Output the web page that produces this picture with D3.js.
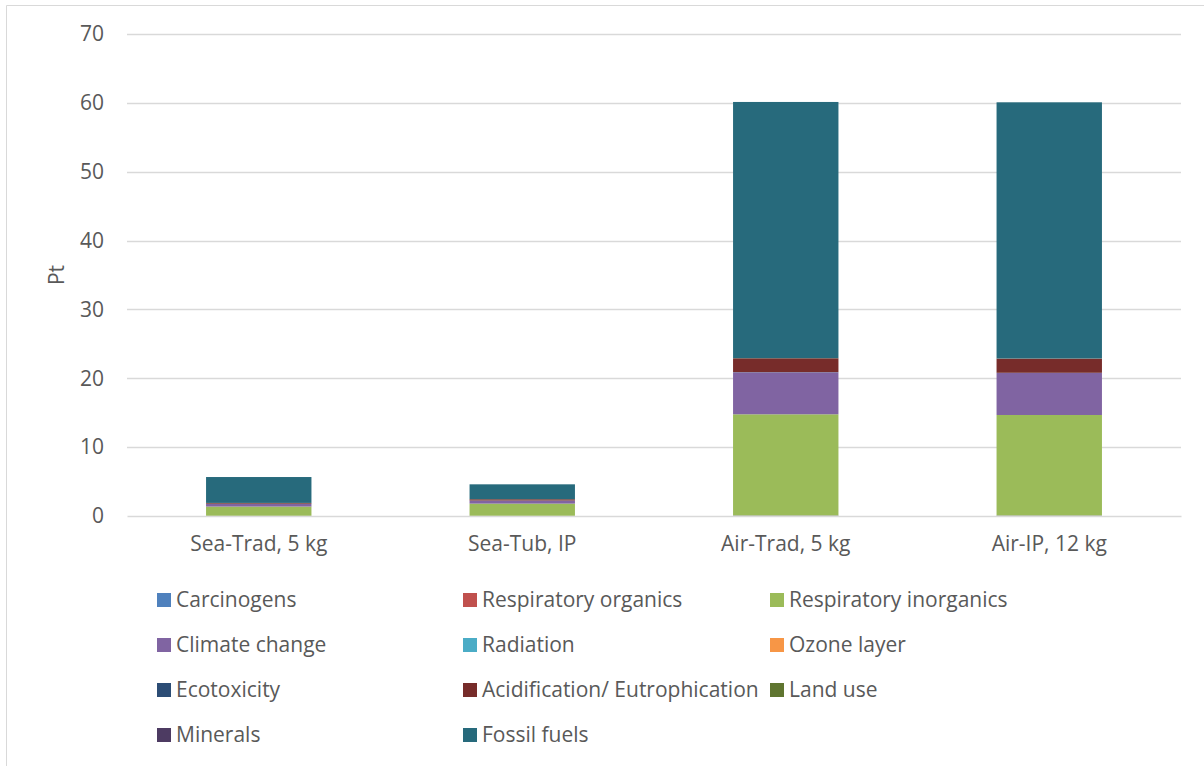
<!DOCTYPE html>
<html>
<head>
<meta charset="utf-8">
<script src="https://cdn.jsdelivr.net/npm/d3@7"></script>
<style>
  body { margin: 0; background: #fff; }
  svg text { font-family: "Open Sans", Calibri, sans-serif; fill: #595959; }
</style>
</head>
<body>
<div id="chart"></div>
<script>
// Data
const categories = ["Sea-Trad, 5 kg", "Sea-Tub, IP", "Air-Trad, 5 kg", "Air-IP, 12 kg"];
const seriesNames = ["Carcinogens", "Respiratory organics", "Respiratory inorganics",
  "Climate change", "Radiation", "Ozone layer", "Ecotoxicity",
  "Acidification/ Eutrophication", "Land use", "Minerals", "Fossil fuels"];
const carcinogens = [0.01, 0.01, 0.05, 0.05];
const respOrganics = [0.01, 0.01, 0.02, 0.02];
const respInorganics = [1.35, 1.78, 14.7, 14.6];
const climateChange = [0.4, 0.44, 6.1, 6.1];
const radiation = [0, 0, 0.01, 0.01];
const ozoneLayer = [0, 0, 0, 0];
const ecotoxicity = [0.01, 0.01, 0.02, 0.02];
const acidification = [0.1, 0.18, 2.0, 2.05];
const landUse = [0.01, 0.01, 0.02, 0.02];
const minerals = [0.01, 0.01, 0.01, 0.01];
const fossilFuels = [3.76, 2.15, 37.2, 37.2];
const yTicks = [0, 10, 20, 30, 40, 50, 60, 70];

const seriesValues = [carcinogens, respOrganics, respInorganics, climateChange, radiation,
  ozoneLayer, ecotoxicity, acidification, landUse, minerals, fossilFuels];
const colors = ["#4F81BD", "#C0504D", "#9BBB59", "#8064A2", "#4BACC6", "#F79646",
  "#2C4D75", "#772C2A", "#5F7530", "#4D3B62", "#276A7C"];

const width = 1204, height = 766;
const margin = { top: 34, right: 23, bottom: 250, left: 127 };
const chartWidth = width - margin.left - margin.right;
const chartHeight = height - margin.top - margin.bottom;
const fontSize = "21px";

const svg = d3.select("#chart").append("svg")
  .attr("width", width)
  .attr("height", height);

// chart area border (top + left visible)
svg.append("line").attr("x1", 6.5).attr("x2", width).attr("y1", 5.5).attr("y2", 5.5)
  .attr("stroke", "#D9D9D9");
svg.append("line").attr("x1", 6.5).attr("x2", 6.5).attr("y1", 5.5).attr("y2", height)
  .attr("stroke", "#D9D9D9");

const g = svg.append("g").attr("transform", `translate(${margin.left},${margin.top})`);

const table = categories.map((c, i) => {
  const row = { category: c };
  seriesNames.forEach((s, j) => { row[s] = seriesValues[j][i]; });
  return row;
});
const stacked = d3.stack().keys(seriesNames)(table);

const x = d3.scaleBand()
  .domain(categories)
  .range([0, chartWidth])
  .paddingInner(0.6)
  .paddingOuter(0.3);

const y = d3.scaleLinear().domain([0, 70]).range([chartHeight, 0]);

const color = d3.scaleOrdinal().domain(seriesNames).range(colors);

// gridlines
g.append("g")
  .selectAll("line")
  .data(yTicks.filter(t => t > 0))
  .join("line")
  .attr("x1", 0).attr("x2", chartWidth)
  .attr("y1", d => Math.round(y(d)) + 0.5).attr("y2", d => Math.round(y(d)) + 0.5)
  .attr("stroke", "#D9D9D9").attr("stroke-width", 1.5);

// y axis labels
const yAxis = g.append("g")
  .call(d3.axisLeft(y).tickValues(yTicks).tickSize(0).tickPadding(23));
yAxis.select(".domain").remove();
yAxis.selectAll("text")
  .style("font-size", fontSize)
  .style("font-family", "'Open Sans', sans-serif")
  .attr("fill", "#595959");

// bars
g.append("g")
  .selectAll("g")
  .data(stacked)
  .join("g")
  .attr("fill", d => color(d.key))
  .selectAll("rect")
  .data(d => d)
  .join("rect")
  .attr("x", d => x(d.data.category))
  .attr("width", x.bandwidth())
  .attr("y", d => y(d[1]))
  .attr("height", d => y(d[0]) - y(d[1]));

// x axis
const xAxis = g.append("g")
  .attr("transform", `translate(0,${chartHeight})`)
  .call(d3.axisBottom(x).tickSize(0).tickPadding(20));
xAxis.select(".domain").attr("stroke", "#D9D9D9").attr("stroke-width", 1.5);
xAxis.selectAll("text")
  .style("font-size", fontSize)
  .style("font-family", "'Open Sans', sans-serif")
  .attr("fill", "#595959");

// y axis title
svg.append("text")
  .attr("transform", "rotate(-90)")
  .attr("x", -275)
  .attr("y", 64)
  .attr("text-anchor", "middle")
  .style("font-size", fontSize)
  .text("Pt");

// legend
const legendCols = [157, 463, 770];
const legendRows = [600, 645, 690, 735];
const legend = svg.append("g")
  .selectAll("g")
  .data(seriesNames)
  .join("g")
  .attr("transform", (d, i) => `translate(${legendCols[i % 3]},${legendRows[Math.floor(i / 3)]})`);

legend.append("rect")
  .attr("x", 0).attr("y", -7)
  .attr("width", 14).attr("height", 14)
  .attr("fill", d => color(d));

legend.append("text")
  .attr("x", 19)
  .attr("y", 0)
  .attr("dy", "0.35em")
  .style("font-size", fontSize)
  .text(d => d);
</script>
</body>
</html>
